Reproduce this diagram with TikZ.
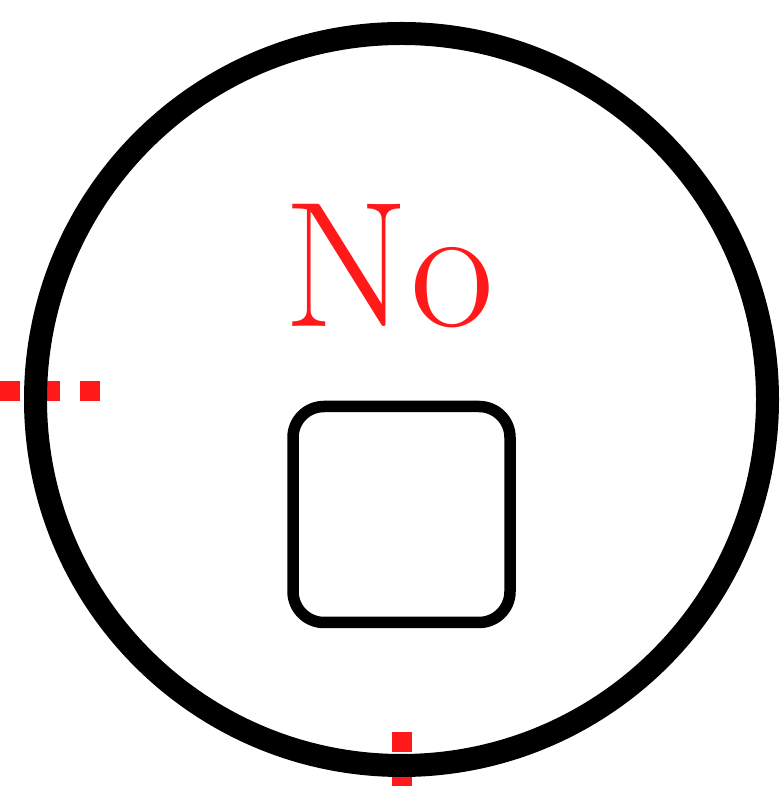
\documentclass[tikz,border=0pt]{standalone}
\usepackage{fontspec}
\usepackage{xcolor}
\usepackage{tikz}
\usetikzlibrary{positioning}

\definecolor{rojo}{RGB}{255,25,25}

\begin{document}
\begin{tikzpicture}[
  x=1pt, y=1pt,
  aro/.style={draw=black, line width=23pt},
  caja/.style={draw=black, line width=11.5pt, rounded corners=31pt,
               minimum width=217pt, minimum height=216pt, inner sep=0pt},
  texto/.style={text=rojo, font=\fontsize{179}{179}\selectfont, inner sep=0pt},
  guia/.style={draw=rojo, line width=20pt, dash pattern=on 20pt off 20pt}
]
\useasboundingbox (0,0) rectangle (780,786);

\coordinate (centro) at (401.5,386.5);
\coordinate (guiaizq) at (100,395);
\coordinate (bordeizq) at (0,395);
\coordinate (guiainf) at (401.7,54);
\coordinate (bordeinf) at (401.7,0);

% guias rojas
\draw[guia] (guiaizq) -- (bordeizq);
\draw[guia] (guiainf) -- (bordeinf);

\draw[aro] (centro) circle (366);

\node[texto, anchor=base, xscale=1.02, transform shape] (palabra) at (389,459) {No};
\node[caja] (cuadro) at (401.5,271.5) {};
\end{tikzpicture}
\end{document}
